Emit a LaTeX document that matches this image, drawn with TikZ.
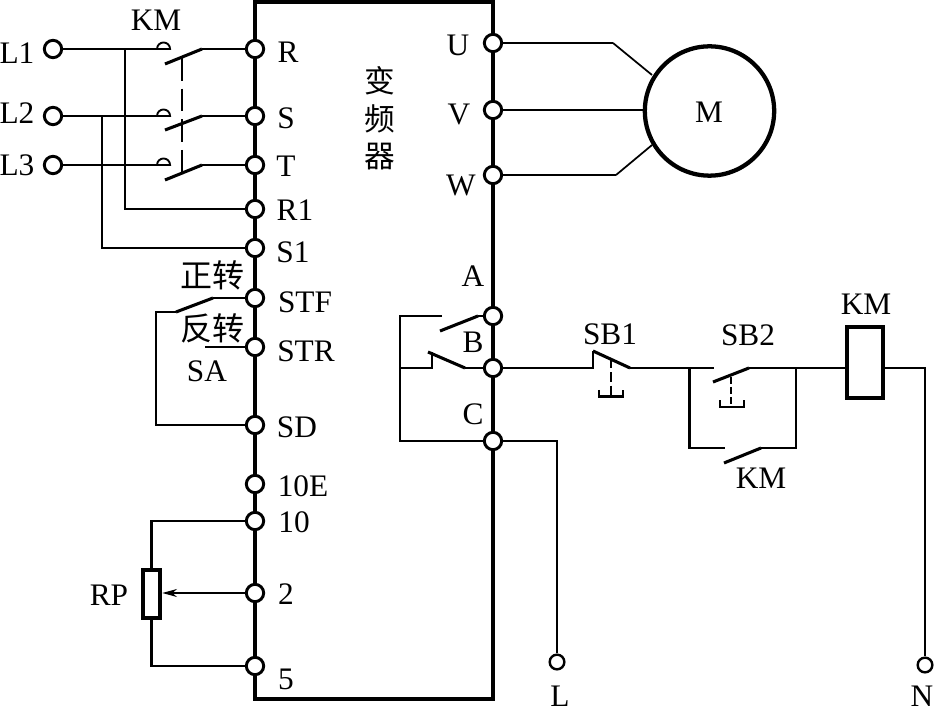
\documentclass[tikz,border=0pt]{standalone}
\usepackage{fontspec}
\setmainfont{Liberation Serif}
\newfontfamily\cjkfont{Noto Sans CJK SC}
\usetikzlibrary{arrows.meta}
\tikzset{
  x=0.75pt,y=-0.75pt,
  wire/.style={line width=1.9pt,line join=miter},
  thinwire/.style={line width=1.3pt},
  blade/.style={line width=2.3pt},
  dome/.style={line width=1.4pt},
  term/.style={circle,draw=black,fill=white,line width=2.2pt,minimum size=13pt,inner sep=0pt},
  lab/.style={inner sep=0pt,font=\fontsize{23.5}{23.5}\selectfont},
  cjk/.style={inner sep=0pt,font=\cjkfont\fontsize{24}{24}\selectfont},
  boxline/.style={draw=black,line width=3.2pt,fill=white,inner sep=0pt},
}
\begin{document}
\begin{tikzpicture}
\useasboundingbox (0,0) rectangle (934,712);
% converter body
\node[draw=black,line width=3.2pt,minimum width=178.5pt,minimum height=522.75pt,inner sep=0pt] (inv) at (374,350.5) {};
% terminals
\node[term] (L1) at (53,49) {};
\node[term] (L2) at (53,116) {};
\node[term] (L3) at (53,165) {};
\node[term] (R) at (255,49) {};
\node[term] (S) at (255,116) {};
\node[term] (T) at (255,165) {};
\node[term] (R1) at (255,209) {};
\node[term] (S1) at (255,248) {};
\node[term] (STF) at (255,298) {};
\node[term] (STR) at (255,347) {};
\node[term] (SD) at (255,425) {};
\node[term] (E10) at (255,484) {};
\node[term] (T10) at (255,521) {};
\node[term] (T2) at (255,593) {};
\node[term] (T5) at (255,666) {};
\node[term] (U) at (493,43) {};
\node[term] (V) at (493,110) {};
\node[term] (W) at (493,175) {};
\node[term] (A) at (493,316) {};
\node[term] (B) at (493,368) {};
\node[term] (C) at (493,441) {};
\node[term,line width=1.8pt,minimum size=11pt] (LL) at (557,662) {};
\node[term,line width=1.8pt,minimum size=11pt] (NN) at (925,665) {};
% motor
\node[circle,draw=black,line width=3.2pt,minimum size=97pt,inner sep=0pt] (M) at (709.5,111) {};
\node[lab] (Mt) at (709,112) {M};
% coil and rheostat
\node[boxline,minimum width=27pt,minimum height=53.5pt] (coil) at (865,362.5) {};
\node[boxline,minimum width=13pt,minimum height=36.5pt] (RP) at (151.5,594) {};
% coordinates
\coordinate (j1) at (125,49);
\coordinate (j2) at (102,116);
\coordinate (a1) at (157,49);
\coordinate (a2) at (157,116);
\coordinate (a3) at (157,165);
\coordinate (b1) at (202,49);
\coordinate (b2) at (202,116);
\coordinate (b3) at (202,165);
\coordinate (bt1) at (165,64);
\coordinate (bt2) at (165,130);
\coordinate (bt3) at (165,180);
% mains wiring
\draw[wire] (L1) -- (a1);
\draw[wire] (L2) -- (a2);
\draw[wire] (L3) -- (a3);
\draw[dome] (a1) arc[start angle=180,end angle=0,radius=4.9pt] -- cycle;
\draw[dome] (a2) arc[start angle=180,end angle=0,radius=4.9pt] -- cycle;
\draw[dome] (a3) arc[start angle=180,end angle=0,radius=4.9pt] -- cycle;
\draw[wire] (R) -- (b1);
\draw[wire] (S) -- (b2);
\draw[wire] (T) -- (b3);
\draw[blade] (b1) -- (bt1) (b2) -- (bt2) (b3) -- (bt3);
\draw[wire] (j1) |- (R1);
\draw[wire] (j2) |- (S1);
\draw[line width=1.5pt,dash pattern=on 17pt off 6pt] (181.5,58) -- (181.5,175);
% forward / reverse switch
\coordinate (sa1) at (213,298);
\coordinate (sa2) at (176,312);
\coordinate (sa3) at (156,312);
\draw[wire] (STF) -- (sa1);
\draw[blade] (sa1) -- (sa2);
\draw[wire] (sa2) -- (sa3) |- (SD);
\coordinate (sa4) at (205,347);
\draw[wire] (STR) -- (sa4);
% rheostat wiring
\draw[wire] (T10) -| (RP.north);
\draw[wire] (T5) -| (RP.south);
\draw[line width=1pt,-{Stealth[length=11pt,width=6pt,inset=3.5pt]}] (T2) -- (RP.east |- T2);
% motor wiring
\coordinate (mu) at (613,43);
\coordinate (mw) at (616,175);
\draw[wire] (U) -- (mu);
\draw[thinwire] (mu) -- (652,75);
\draw[wire] (V) -- (M.west |- V);
\draw[wire] (W) -- (mw);
\draw[thinwire] (mw) -- (652,145);
% A,B,C contacts
\coordinate (ca) at (442,316);
\coordinate (cb) at (400,316);
\coordinate (cc) at (400,368);
\coordinate (cd) at (432,368);
\coordinate (ce) at (432,352);
\draw[wire] (ca) -- (cb) -- (400,441) -- (C);
\draw[wire] (cc) -- (cd) -- (ce);
\draw[wire] (A) -- (478,316);
\draw[blade] (478,316) -- (440,331);
\draw[wire] (B) -- (465,368);
\draw[blade] (465,368) -- (428,352);
\coordinate (cl) at (557,441);
\draw[wire] (C) -- (cl) -- (LL);
% SB1
\coordinate (s1a) at (593,368);
\coordinate (s1b) at (593,351);
\coordinate (s1c) at (630,368);
\coordinate (s2a) at (714,368);
\coordinate (s2b) at (713,382);
\coordinate (s2c) at (749,368);
\draw[wire] (B) -- (s1a) -- (s1b);
\draw[blade] (s1b) -- (s1c);
\draw[wire] (s1c) -- (s2a);
\draw[blade] (s2b) -- (s2c);
\draw[wire] (s2c) -- (coil.west |- s2c);
\draw[line width=1.3pt,dash pattern=on 7pt off 3pt] (611,359) -- (611,396);
\draw[wire,line width=2.2pt] (599,390) -- (599,396.5) -- (623,396.5) -- (623,390);
\draw[line width=1.1pt,dash pattern=on 5pt off 2.5pt] (731,377) -- (731,407);
\draw[wire,line width=2.2pt] (720,400) -- (720,407) -- (744,407) -- (744,400);
% KM holding contact
\coordinate (h1) at (689.5,368);
\coordinate (h2) at (689.5,448);
\coordinate (h3) at (725,448);
\coordinate (h4) at (724,463);
\coordinate (h5) at (761,448);
\coordinate (h6) at (796,448);
\coordinate (h7) at (796,368);
\draw[thinwire,line width=1.6pt] (h1) -- (h2) -- (h3);
\draw[blade] (h4) -- (h5);
\draw[thinwire,line width=1.6pt] (h5) -- (h6) -- (h7);
\coordinate (n1) at (925,368);
\draw[wire] (coil.east |- n1) -- (n1) -- (NN);
% labels
\node[lab] (tL1) at (17,53) {L1};
\node[lab] (tL2) at (17,113) {L2};
\node[lab] (tL3) at (17,165) {L3};
\node[lab] (tKM1) at (156,20) {KM};
\node[lab] (tR) at (288,52) {R};
\node[lab] (tS) at (286,118) {S};
\node[lab] (tT) at (286,166) {T};
\node[lab] (tR1) at (295,210) {R1};
\node[lab] (tS1) at (293,252) {S1};
\node[lab] (tSTF) at (305,302) {STF};
\node[lab] (tSTR) at (306,351) {STR};
\node[lab] (tSD) at (297,427) {SD};
\node[lab] (t10E) at (303,486) {10E};
\node[lab] (t10) at (294,522) {10};
\node[lab] (t2) at (286,594) {2};
\node[lab] (t5) at (286,679) {5};
\node[lab] (tU) at (458,45) {U};
\node[lab] (tV) at (459,114) {V};
\node[lab] (tW) at (461,185) {W};
\node[lab] (tA) at (473,276) {A};
\node[lab] (tB) at (473,342) {B};
\node[lab] (tC) at (473,414) {C};
\node[lab] (tSA) at (207,371) {SA};
\node[lab] (tRP) at (109,595) {RP};
\node[lab] (tSB1) at (610,334) {SB1};
\node[lab] (tSB2) at (748,335) {SB2};
\node[lab] (tKM2) at (866,304) {KM};
\node[lab] (tKM3) at (761,478) {KM};
\node[lab] (tL) at (560,696) {L};
\node[lab] (tN) at (922,696) {N};
\node[cjk] (z1) at (212,275) {正转};
\node[cjk] (z2) at (212,328) {反转};
\node[cjk,font=\cjkfont\fontsize{23}{23}\selectfont] (b1t) at (380,81) {变};
\node[cjk,font=\cjkfont\fontsize{23}{23}\selectfont] (b2t) at (380,119) {频};
\node[cjk,font=\cjkfont\fontsize{23}{23}\selectfont] (b3t) at (380,157) {器};
\end{tikzpicture}
\end{document}
